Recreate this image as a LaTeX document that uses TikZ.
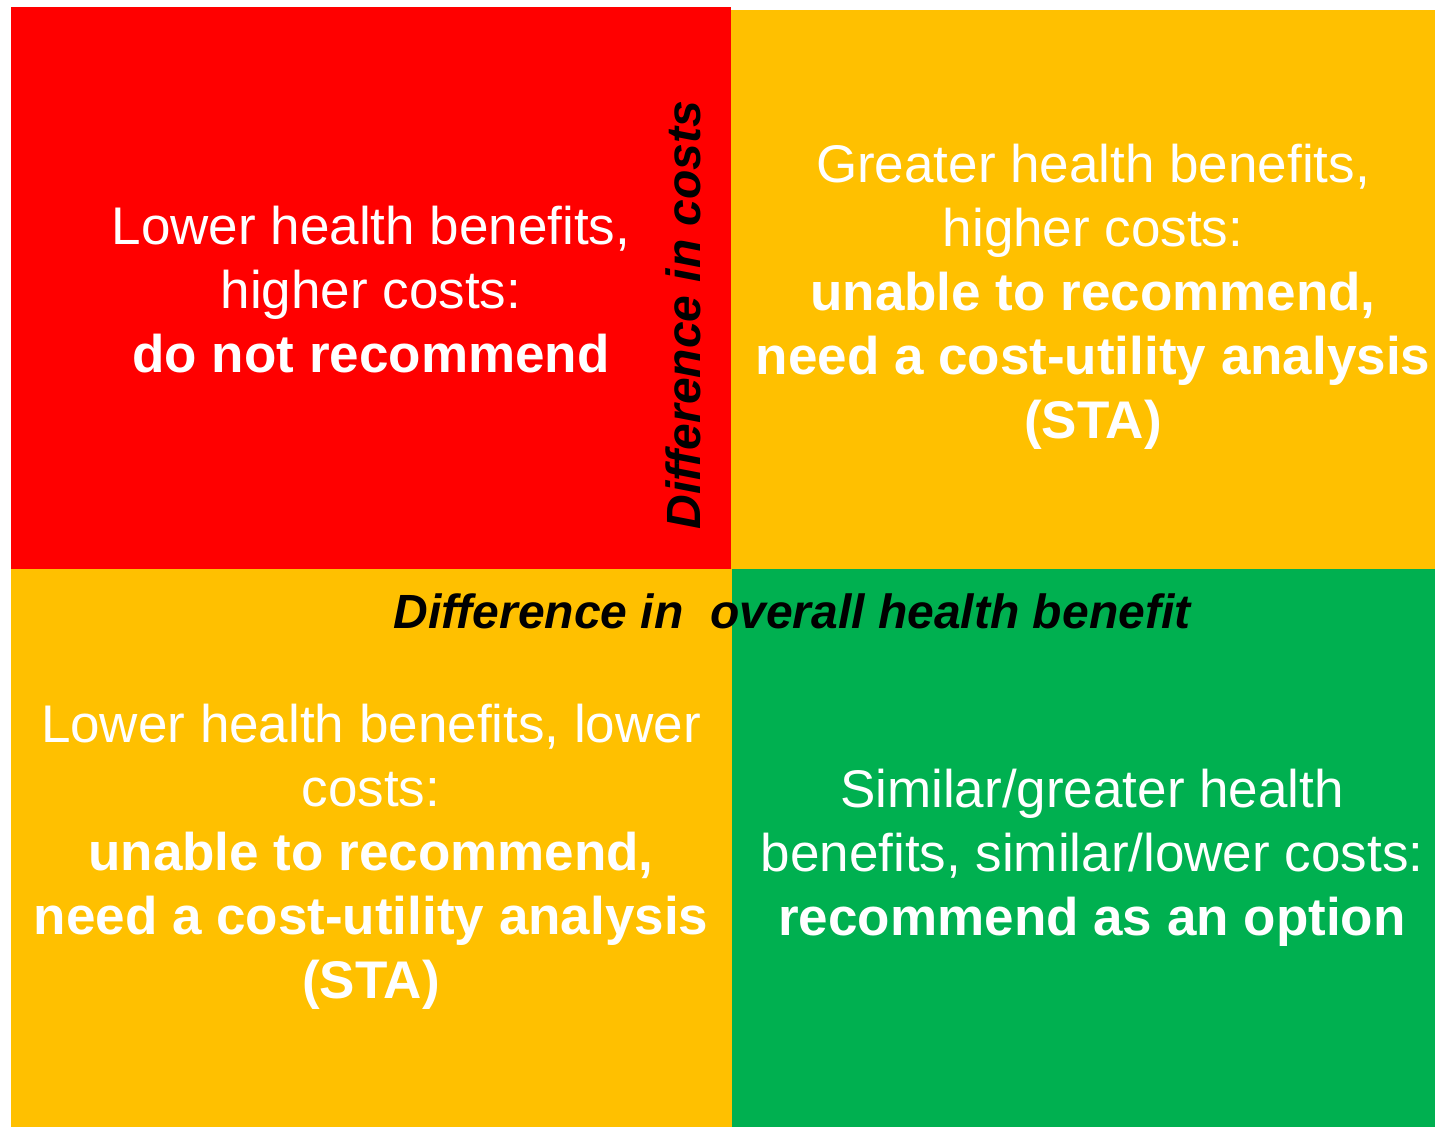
\documentclass[tikz,border=0pt]{standalone}
\usepackage{fontspec}
\setmainfont{Liberation Sans}
\definecolor{qred}{HTML}{FF0000}
\definecolor{qyellow}{HTML}{FFC000}
\definecolor{qgreen}{HTML}{00B050}
\begin{document}
\begin{tikzpicture}[x=0.75pt,y=-0.75pt,
  quad/.style={draw=none,inner sep=0pt,minimum width=#1},
  qtext/.style={text=white,align=center,inner sep=0pt,font=\fontsize{39.75pt}{48pt}\selectfont},
  axislabel/.style={text=black,inner sep=0pt,font=\fontsize{36pt}{40pt}\selectfont\bfseries\itshape}]
\useasboundingbox (0,0) rectangle (1435,1127);
\fill[white] (0,0) rectangle (1435,1127);
\fill[qred] (11,7) rectangle (731,569);
\fill[qyellow] (731,10) rectangle (1435,569);
\fill[qyellow] (11,569) rectangle (732,1127);
\fill[qgreen] (732,569) rectangle (1435,1127);
\node[qtext] (tl) at (371,290) {Lower health benefits,\\higher costs:\\\textbf{do not recommend}};
\node[qtext] (tr) at (1093,297) {Greater health benefits,\\higher costs:\\\textbf{unable to recommend,}\\\textbf{need a cost-utility analysis}\\\textbf{(STA)}};
\node[qtext] (bl) at (371,857) {Lower health benefits, lower\\costs:\\\textbf{unable to recommend,}\\\textbf{need a cost-utility analysis}\\\textbf{(STA)}};
\node[qtext] (br) at (1092,858) {Similar/greater health\\benefits, similar/lower costs:\\\textbf{recommend as an option}};
\node[axislabel,rotate=90] (ycost) at (683,315) {Difference in costs};
\node[axislabel] (xben) at (792,611) {Difference in\ \ overall health benefit};
\end{tikzpicture}
\end{document}
